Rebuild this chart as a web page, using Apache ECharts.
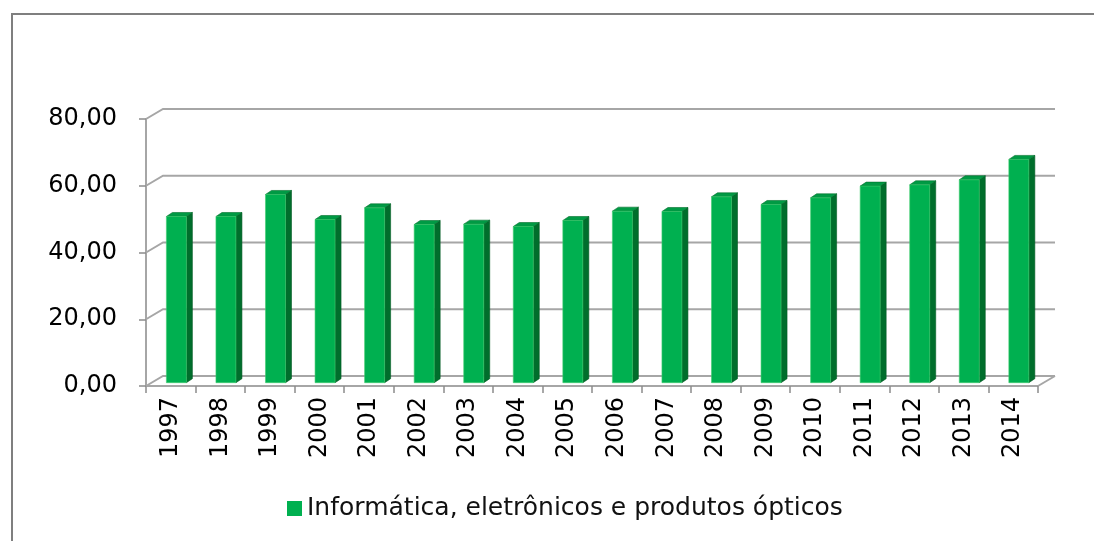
<!DOCTYPE html>
<html>
<head>
<meta charset="utf-8">
<script src="https://cdn.jsdelivr.net/npm/echarts@6/dist/echarts.min.js"></script>
<style>
  html, body { margin: 0; padding: 0; background: #fff; overflow: hidden; }
  #chart { width: 1094px; height: 541px; }
</style>
</head>
<body>
<div id="chart"></div>
<script>
// data
const years = ['1997', '1998', '1999', '2000', '2001', '2002', '2003', '2004', '2005',
  '2006', '2007', '2008', '2009', '2010', '2011', '2012', '2013', '2014']
const values = [49.8, 49.8, 56.4, 48.9, 52.4, 47.4, 47.5, 46.8, 48.6,
  51.4, 51.3, 55.7, 53.4, 55.4, 58.9, 59.3, 60.8, 66.9]
const yTicks = [0, 20, 40, 60, 80]
const seriesName = 'Informática, eletrônicos e produtos ópticos'

// fake 3d depth of the walls
const DX = 17
const DY = -10
const gridColor = '#a6a6a6'

const chart = echarts.init(document.getElementById('chart'))

function wallItem(params, api) {
  const v = api.value(1)
  const bw = api.size([1, 0])[0]
  const p0 = api.coord([0, v])
  const pN = api.coord([years.length - 1, v])
  const x0 = p0[0] - bw / 2
  const x1 = pN[0] + bw / 2
  const y = p0[1]
  const children = [{
    type: 'polyline',
    shape: { points: [[x0, y], [x0 + DX, y + DY], [x1 + DX, y + DY]] },
    style: { stroke: gridColor, lineWidth: 2, fill: null }
  }]
  if (v === 0) {
    children.push({
      type: 'line',
      shape: { x1: x1, y1: y, x2: x1 + DX, y2: y + DY },
      style: { stroke: gridColor, lineWidth: 2 }
    })
  }
  return { type: 'group', children: children }
}

function barItem(params, api) {
  const i = api.value(0)
  const base = api.coord([i, 0])
  const top = api.coord([i, api.value(1)])
  const f = 0.33
  const sx = DX * f, sy = DY * f
  const w = 20, sd = 6, sh = -4
  const fl = base[0] - 10 + sx
  const fr = fl + w
  const yb = base[1] + sy
  const yt = top[1] + sy
  return {
    type: 'group',
    children: [
      {
        type: 'polygon',
        shape: { points: [[fr, yt], [fr + sd, yt + sh], [fr + sd, yb + sh], [fr, yb]] },
        style: { fill: '#006e2c', stroke: '#005a24', lineWidth: 0.6 }
      },
      {
        type: 'polygon',
        shape: { points: [[fl, yt], [fl + sd, yt + sh], [fr + sd, yt + sh], [fr, yt]] },
        style: { fill: '#009a44', stroke: '#006e2c', lineWidth: 0.6 }
      },
      {
        type: 'rect',
        shape: { x: fl, y: yt, width: w, height: yb - yt },
        style: { fill: '#00b050', stroke: '#3fcf6f', lineWidth: 0.6 }
      }
    ]
  }
}

const option = {
  animation: false,
  // outer chart frame, only left and top edges show in the picture
  graphic: [
    {
      type: 'polyline',
      silent: true,
      shape: { points: [[12, 541], [12, 14], [1094, 14]] },
      style: { stroke: '#7f7f7f', lineWidth: 2, fill: null }
    }
  ],
  grid: { left: 146, right: 56, top: 119, bottom: 155 },
  legend: {
    left: 287,
    top: 496,
    padding: 0,
    itemWidth: 15,
    itemHeight: 15,
    icon: 'rect',
    data: [seriesName],
    textStyle: { fontFamily: 'DejaVu Sans', fontSize: 25, color: '#111' }
  },
  xAxis: {
    type: 'category',
    data: years,
    axisLine: { lineStyle: { color: gridColor, width: 2 } },
    axisTick: { show: true, length: 7, lineStyle: { color: '#8c8c8c', width: 1.5 } },
    axisLabel: {
      interval: 0, rotate: 90, margin: 11,
      fontFamily: 'DejaVu Sans', fontSize: 24, color: '#000'
    }
  },
  yAxis: {
    type: 'value',
    min: 0,
    max: 80,
    interval: 20,
    axisLine: { show: true, lineStyle: { color: gridColor, width: 2 } },
    axisTick: { show: true, length: 7, lineStyle: { color: '#8c8c8c', width: 1.5 } },
    splitLine: { show: false },
    axisLabel: {
      margin: 29,
      fontFamily: 'DejaVu Sans', fontSize: 24, color: '#000',
      formatter: v => v.toFixed(2).replace('.', ',')
    }
  },
  series: [
    {
      type: 'custom',
      name: 'wall',
      silent: true,
      clip: false,
      renderItem: wallItem,
      data: yTicks.map(v => [0, v]),
      z: 1
    },
    {
      type: 'custom',
      name: seriesName,
      clip: false,
      itemStyle: { color: '#00b050' },
      renderItem: barItem,
      data: values.map((v, i) => [i, v]),
      z: 3
    }
  ]
}

chart.setOption(option)
</script>
</body>
</html>
